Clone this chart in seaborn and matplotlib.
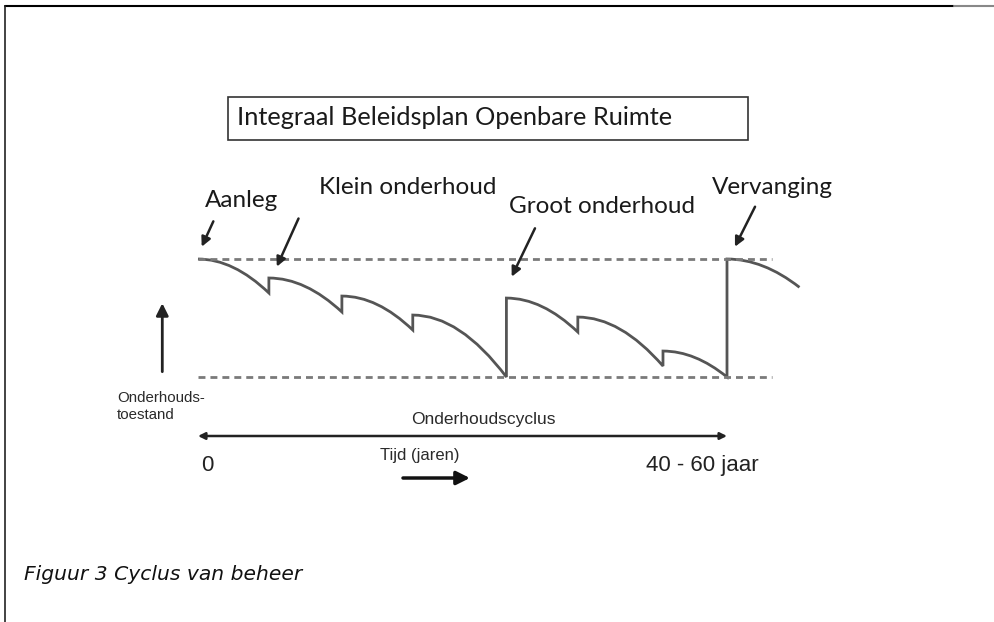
import numpy as np
import pandas as pd
import matplotlib
matplotlib.use("Agg")
import matplotlib.pyplot as plt
from matplotlib.path import Path
from matplotlib.patches import PathPatch, Rectangle
from matplotlib.lines import Line2D
import seaborn as sns

# Onderhoudstoestand (0-100) versus tijd (% van de onderhoudscyclus)
seg_start_t = [0, 13.4, 27.2, 40.6, 58.3, 71.8, 87.9, 100]
seg_end_t = [13.4, 27.2, 40.6, 58.3, 71.8, 87.9, 100, 113.7]
seg_start_c = [100, 83.9, 68.6, 52.5, 66.9, 50.8, 22.0, 100]
seg_end_c = [71.2, 55.1, 39.8, 0, 38.1, 9.3, 0, 76.0]

# Stippellijnen: nieuwe toestand en minimale toestand
ref_levels = [100, 0]
ref_span = [0, 108.5]

# Labels met pijlen (tekstpositie, pijlpunt)
labels = ["Aanleg", "Klein onderhoud", "Groot onderhoud", "Vervanging"]
label_t = [8.3, 39.6, 76.3, 108.6]
label_c = [149.2, 160.2, 144.9, 161.0]
arrow_tail_t = [2.9, 19.0, 63.7, 105.3]
arrow_tail_c = [131.9, 134.3, 126.0, 144.3]
arrow_head_t = [0.7, 14.9, 59.3, 101.5]
arrow_head_c = [110.4, 93.5, 85.0, 110.4]

title_text = "Integraal Beleidsplan Openbare Ruimte"
caption = "Figuur 3 Cyclus van beheer"

# ---------------------------------------------------------------
sns.set_theme(style="white")
plt.rcParams["font.family"] = ["Lato", "DejaVu Sans"]

fig = plt.figure(figsize=(9.94, 6.22), dpi=100)
ax = fig.add_axes([0, 0, 1, 1])
ax.set_xlim(-198 / 5.29, 796 / 5.29)
ax.set_ylim((377 - 622) / 1.18, 377 / 1.18)
ax.axis("off")

# stippellijnen via seaborn
ref = pd.DataFrame({
    "t": ref_span * len(ref_levels),
    "c": np.repeat(ref_levels, len(ref_span)),
    "niveau": np.repeat(["hoog", "laag"], len(ref_span)),
})
sns.lineplot(data=ref, x="t", y="c", units="niveau", estimator=None,
             color="#7a7a7a", lw=2, dashes=False, ax=ax, legend=False)
for line in ax.get_lines():
    line.set_dashes([2.5, 1.8])

# zaagtandcurve: kwadratische bogen, verbonden door verticale sprongen
verts, codes = [], []
for i in range(len(seg_start_t)):
    t0, t1 = seg_start_t[i], seg_end_t[i]
    c0, c1 = seg_start_c[i], seg_end_c[i]
    verts.append((t0, c0))
    codes.append(Path.MOVETO if i == 0 else Path.LINETO)
    verts += [((t0 + t1) / 2, c0), (t1, c1)]
    codes += [Path.CURVE3, Path.CURVE3]
ax.add_patch(PathPatch(Path(verts, codes), fill=False, edgecolor="#555555", lw=2,
                       joinstyle="miter"))

# labels en pijlen
for lab, lt, lc in zip(labels, label_t, label_c):
    ax.text(lt, lc, lab, fontsize=17.5, ha="center", va="center", color="#1a1a1a")
for tt, tc, ht, hc in zip(arrow_tail_t, arrow_tail_c, arrow_head_t, arrow_head_c):
    ax.annotate("", xy=(ht, hc), xytext=(tt, tc),
                arrowprops=dict(arrowstyle="-|>", color="#222222", lw=1.8,
                                mutation_scale=14, shrinkA=0, shrinkB=0))

# titelkader
ax.add_patch(Rectangle((5.67, 200.8), 98.3, 36.5, fill=False,
                       edgecolor="#333333", lw=1.2))
ax.text(7.37, 219.5, title_text, fontsize=18.3, ha="left", va="center",
        color="#1a1a1a")

# as-achtige elementen van de oorspronkelijke figuur
small = ["Liberation Sans", "DejaVu Sans"]
ax.annotate("", xy=(-6.75, 62.5), xytext=(-6.75, 4.5),
            arrowprops=dict(arrowstyle="-|>", color="#222222", lw=2,
                            mutation_scale=18, shrinkA=0, shrinkB=0))
ax.text(-15.3, -25.0, "Onderhouds-\ntoestand", family=small, fontsize=10.8,
        ha="left", va="center", color="#2a2a2a", linespacing=1.3)
ax.annotate("", xy=(0, -50.0), xytext=(100, -50.0),
            arrowprops=dict(arrowstyle="<|-|>", color="#222222", lw=1.8,
                            mutation_scale=10, shrinkA=0, shrinkB=0))
ax.text(53.9, -35.6, "Onderhoudscyclus", family=small, fontsize=12.5,
        ha="center", va="center", color="#2a2a2a")
ax.text(1.7, -75.4, "0", family=small, fontsize=16,
        ha="center", va="center", color="#222222")
ax.text(95.4, -75.4, "40 - 60 jaar", family=small, fontsize=16,
        ha="center", va="center", color="#222222")
ax.text(42.0, -66.9, "Tijd (jaren)", family=small, fontsize=12,
        ha="center", va="center", color="#2a2a2a")
ax.annotate("", xy=(51.4, -85.6), xytext=(38.75, -85.6),
            arrowprops=dict(arrowstyle="-|>", color="#111111", lw=2.5,
                            mutation_scale=20, shrinkA=0, shrinkB=0))

# paginarand en bijschrift
fig.add_artist(Line2D([0.005, 0.96], [0.9904, 0.9904], color="black", lw=1.5,
                      transform=fig.transFigure))
fig.add_artist(Line2D([0.96, 1.0], [0.9904, 0.9904], color="#888888", lw=1.5,
                      transform=fig.transFigure))
fig.add_artist(Line2D([0.005, 0.005], [0.0, 0.9904], color="#222222", lw=1.2,
                      transform=fig.transFigure))
fig.text(0.0241, 0.0756, caption, family=["DejaVu Sans"], style="italic",
         fontsize=14.6, ha="left", va="center", color="#111111")

fig.savefig("out.png", dpi=100)
